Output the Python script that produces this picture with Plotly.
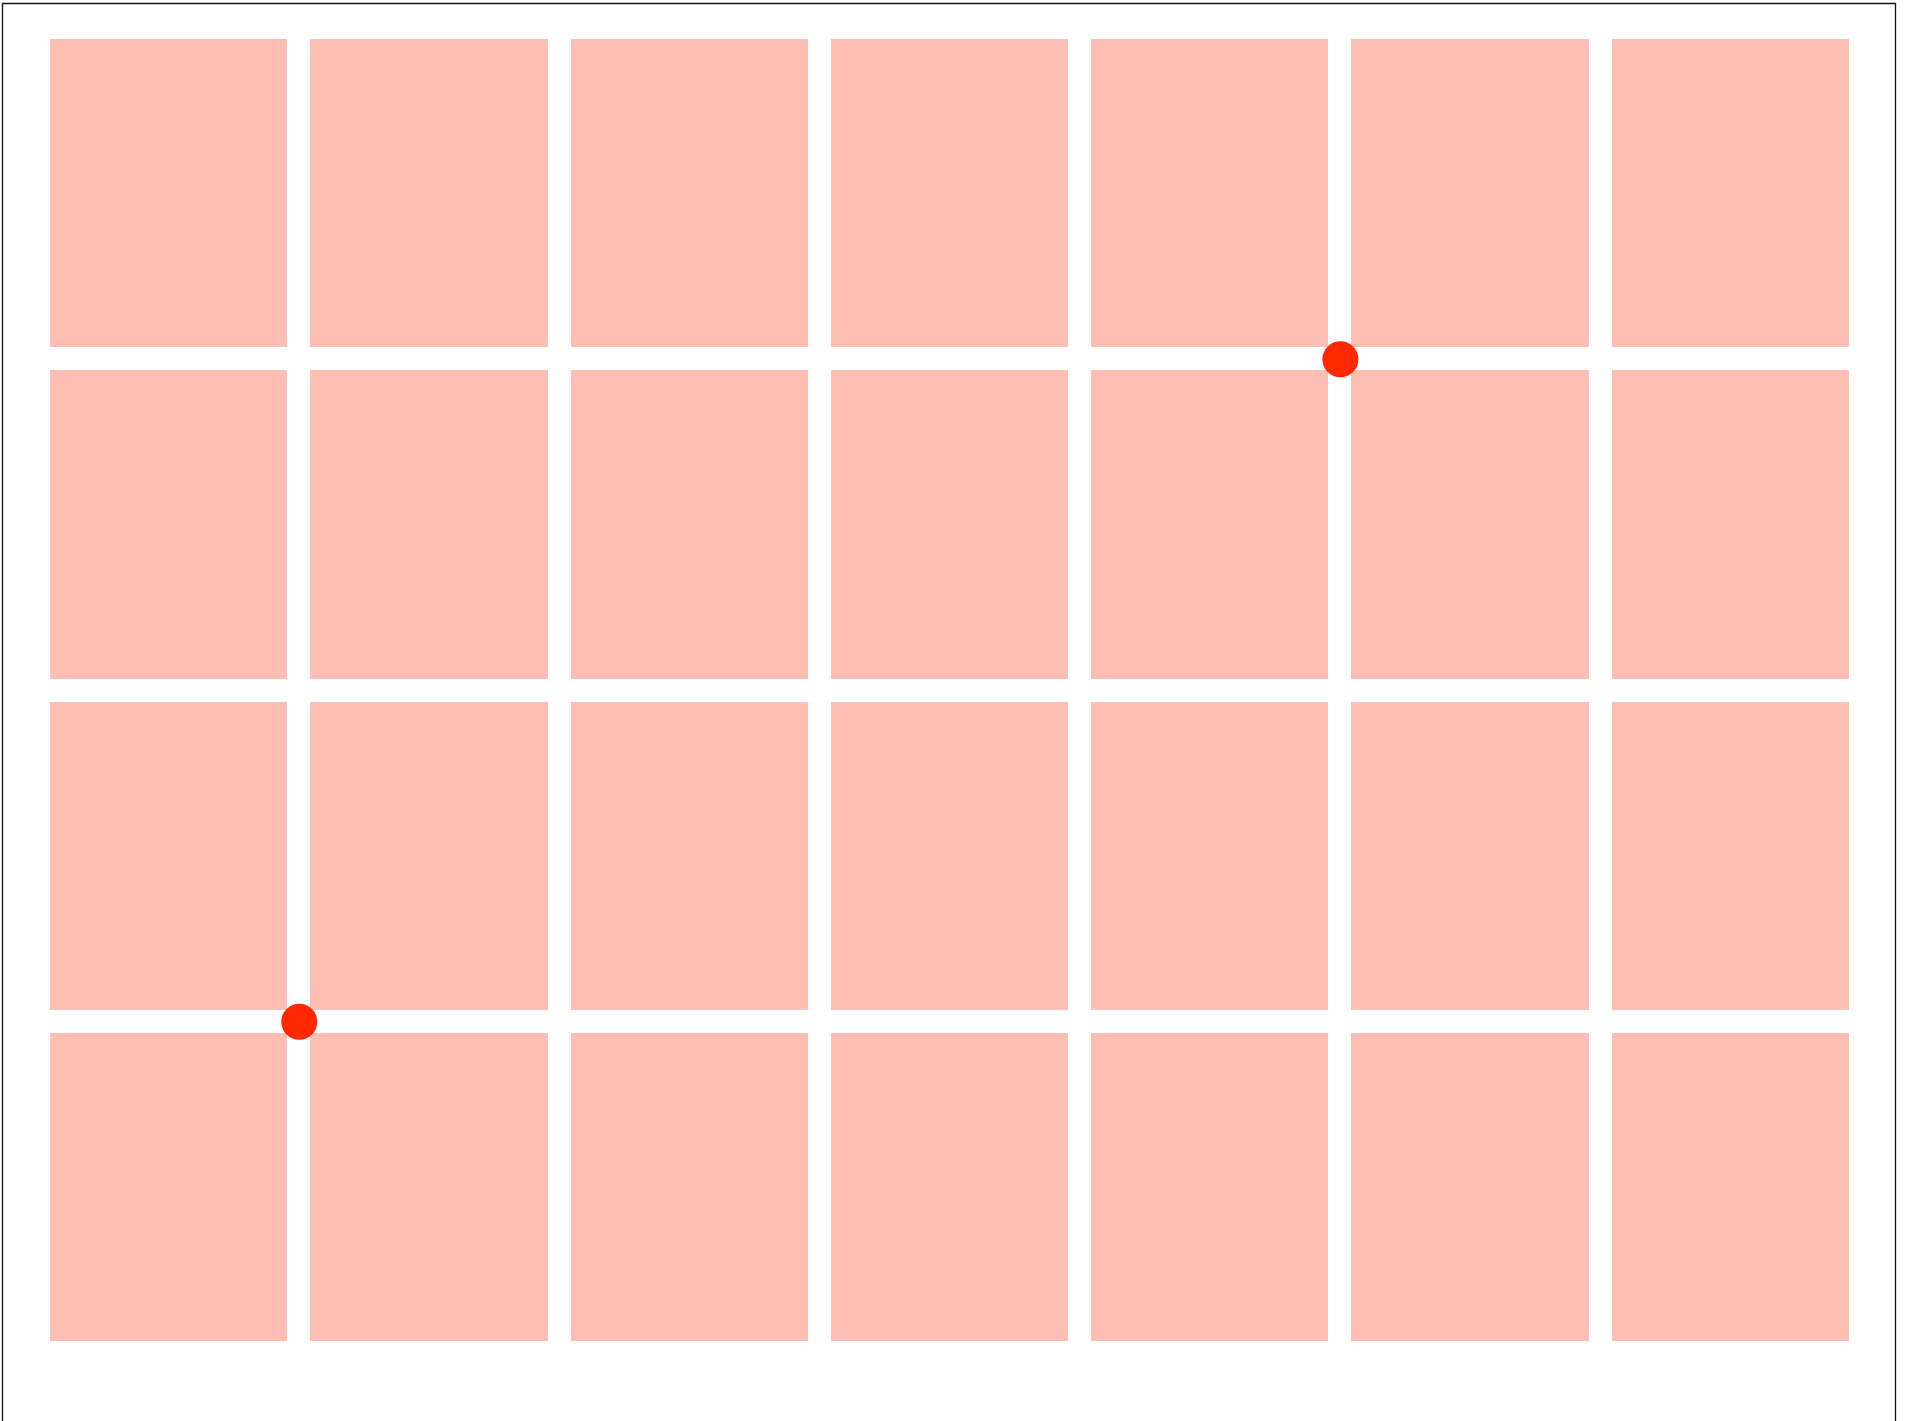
import plotly.graph_objects as go

# Data
col_centers = [0.5, 1.5, 2.5, 3.5, 4.5, 5.5, 6.5]
row_centers = [0.5, 1.5, 2.5, 3.5]
cell_values = [[1] * len(col_centers) for _ in row_centers]
dot_x = [5, 1]
dot_y = [3, 1]

PINK = "#FEBEB3"
RED = "#FF2800"

W, H = 1914, 1421
L, R, T, B = 39, 53, 28, 68
pw, ph = W - L - R, H - T - B


def px_to_paper_x(px):
    return (px - L) / pw


def px_to_paper_y(py):
    return (H - B - py) / ph


fig = go.Figure()
fig.add_trace(go.Heatmap(
    x=col_centers, y=row_centers, z=cell_values,
    colorscale=[[0, PINK], [1, PINK]], showscale=False,
    xgap=23, ygap=23, hoverinfo="skip",
))
fig.add_trace(go.Scatter(
    x=dot_x, y=dot_y, mode="markers",
    marker=dict(size=36, color=RED, line=dict(width=0)),
    hoverinfo="skip", cliponaxis=False, showlegend=False,
))

fig.add_shape(
    type="rect", xref="paper", yref="paper",
    x0=px_to_paper_x(2.5), x1=px_to_paper_x(1895.5),
    y0=px_to_paper_y(1600), y1=px_to_paper_y(3.5),
    line=dict(color="#111111", width=1.3), fillcolor="rgba(0,0,0,0)",
)

fig.update_xaxes(range=[0, 7], visible=False, showgrid=False, zeroline=False)
fig.update_yaxes(range=[0, 4], visible=False, showgrid=False, zeroline=False)
fig.update_layout(
    width=W, height=H,
    margin=dict(l=L, r=R, t=T, b=B, pad=0),
    plot_bgcolor="white", paper_bgcolor="white",
    showlegend=False,
)

fig.write_html(
    "out.html",
    config={"displayModeBar": False},
    post_script="document.body.style.margin='0';document.body.style.overflow='hidden';",
)
